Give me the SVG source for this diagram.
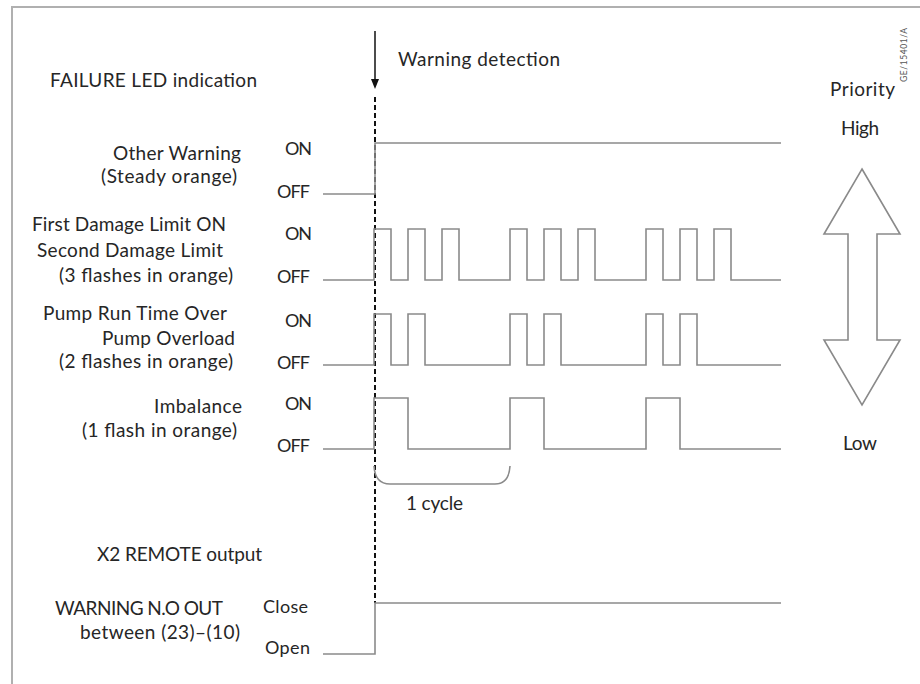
<svg xmlns="http://www.w3.org/2000/svg" width="920" height="684" viewBox="0 0 920 684">
<defs>
<style>
text{font-family:Lato,"Open Sans","Liberation Sans",sans-serif;fill:#262626;font-size:19px}
.lv{font-size:18px}
.sig{fill:none;stroke:#8a8a8a;stroke-width:1.6}
.frame{fill:none;stroke:#b0b0b0;stroke-width:2}
.dash{fill:none;stroke:#111;stroke-width:2;stroke-dasharray:5 3}
.code{font-size:8.5px;fill:#555}
</style>
</defs>
<rect width="920" height="684" fill="#fff"/>
<path class="frame" d="M12,684 V7 H920"/>

<g id="header">
<text x="50" y="87" textLength="207">FAILURE LED indication</text>
<text x="398" y="66" textLength="162">Warning detection</text>
<text class="code" transform="translate(907,55) rotate(-90)" text-anchor="middle" textLength="54">GE/15401/A</text>
</g>

<g id="connectors">
<line x1="375" y1="31" x2="375" y2="81" stroke="#111" stroke-width="1.5"/>
<polygon points="371,79 379,79 375,89" fill="#111"/>
<path class="dash" d="M375,97 V603"/>
</g>

<g id="other-warning">
<text x="113" y="160" textLength="128">Other Warning</text>
<text x="101" y="183" textLength="136">(Steady orange)</text>
<text class="lv" x="285" y="155" textLength="27">ON</text>
<text class="lv" x="277" y="198" textLength="33">OFF</text>
<path class="sig" d="M323,194 H375 V143 H781"/>
</g>

<g id="damage-limit">
<text x="32" y="231" textLength="194">First Damage Limit ON</text>
<text x="37" y="257" textLength="186">Second Damage Limit</text>
<text x="59" y="282" textLength="174">(3 flashes in orange)</text>
<text class="lv" x="285" y="240" textLength="27">ON</text>
<text class="lv" x="277" y="283" textLength="33">OFF</text>
<path class="sig" d="M323,280 H374 V229 H391 V280 H408 V229 H425 V280 H442 V229 H459 V280 H510 V229 H527 V280 H544 V229 H561 V280 H578 V229 H595 V280 H646 V229 H663 V280 H680 V229 H697 V280 H714 V229 H731 V280 H781"/>
</g>

<g id="pump">
<text x="43" y="320" textLength="184">Pump Run Time Over</text>
<text x="102" y="345" textLength="133">Pump Overload</text>
<text x="59" y="368" textLength="174">(2 flashes in orange)</text>
<text class="lv" x="285" y="327" textLength="27">ON</text>
<text class="lv" x="277" y="369" textLength="33">OFF</text>
<path class="sig" d="M323,365 H374 V314 H391 V365 H408 V314 H425 V365 H510 V314 H527 V365 H544 V314 H561 V365 H646 V314 H663 V365 H680 V314 H697 V365 H781"/>
</g>

<g id="imbalance">
<text x="154" y="413" textLength="88">Imbalance</text>
<text x="82" y="437" textLength="155">(1 flash in orange)</text>
<text class="lv" x="285" y="410" textLength="27">ON</text>
<text class="lv" x="277" y="452" textLength="33">OFF</text>
<path class="sig" d="M323,449 H374 V398 H408 V449 H510 V398 H544 V449 H646 V398 H680 V449 H781"/>
</g>

<g id="cycle">
<path class="sig" d="M374,466 Q375,484 390,484 H495 Q509,484 510,466"/>
<text x="406" y="510" textLength="57">1 cycle</text>
</g>

<g id="remote">
<text x="97" y="561" textLength="165">X2 REMOTE output</text>
<text x="55" y="615" textLength="168">WARNING N.O OUT</text>
<text x="80" y="639" textLength="160">between (23)–(10)</text>
<text class="lv" x="263" y="613" textLength="45">Close</text>
<text class="lv" x="265" y="654" textLength="45">Open</text>
<path class="sig" d="M323,654 H375 V603 H781"/>
</g>

<g id="priority">
<text x="830" y="96" textLength="65">Priority</text>
<text x="841" y="135" textLength="38">High</text>
<text x="843" y="450" textLength="34">Low</text>
<polygon points="862,169 900,234 877,234 877,340 900,340 862,405 824,340 848,340 848,234 824,234" fill="#fff" stroke="#8a8a8a" stroke-width="1.6" stroke-linejoin="miter"/>
</g>
</svg>
